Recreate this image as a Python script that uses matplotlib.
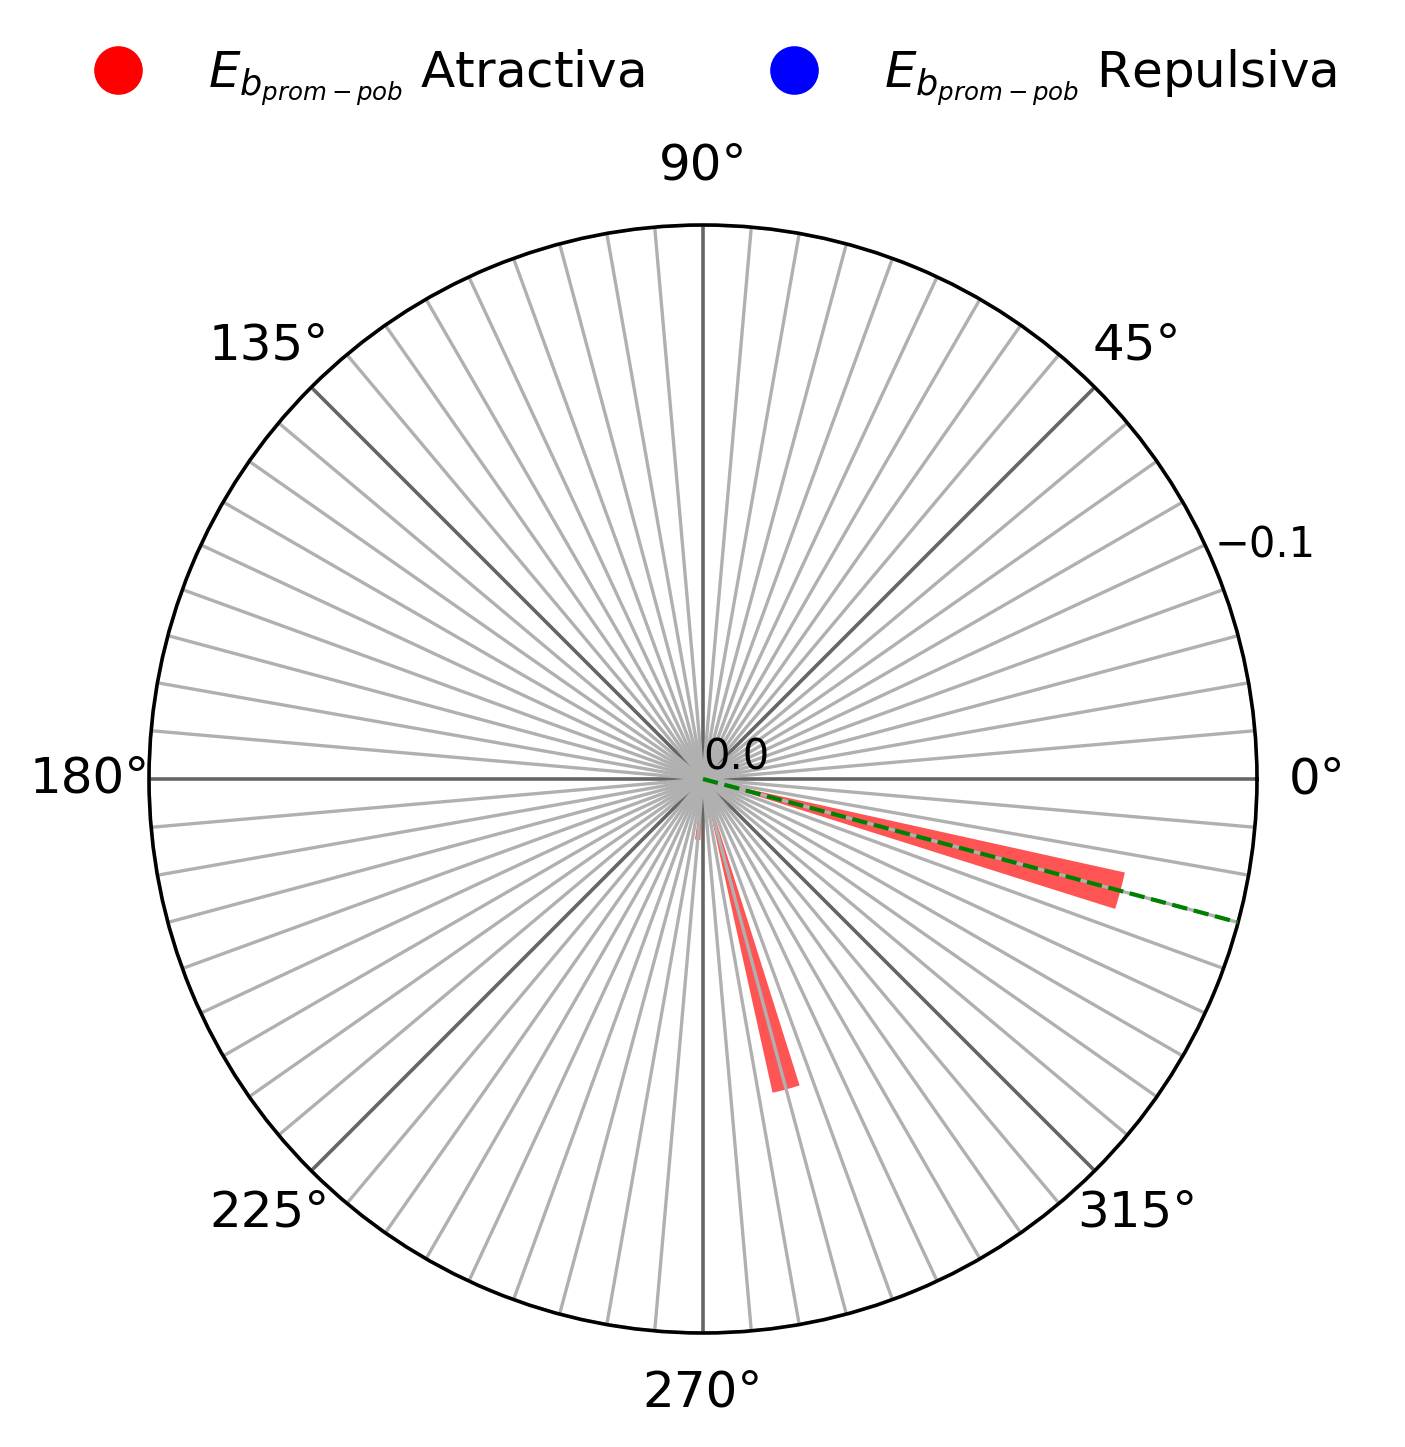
import matplotlib
matplotlib.use("Agg")
import matplotlib.pyplot as plt
import numpy as np

# bar data (angle in degrees, energy value)
angles_deg = [345, 285, 265]
energies = [-0.078, -0.058, -0.011]
bar_width_deg = 5

# reference direction (dashed line)
ref_angle_deg = 345

major_ticks = [0, 45, 90, 135, 180, 225, 270, 315]
minor_ticks = [a for a in range(0, 360, 5) if a % 45 != 0]
r_ticks = [0.0, -0.1]

dpi = 200
fig = plt.figure(figsize=(1405 / dpi, 1447 / dpi), dpi=dpi, facecolor='white')
ax = fig.add_axes([149 / 1405, 1 - 1333 / 1447, 1108 / 1405, 1108 / 1447],
                  projection='polar')

theta = np.deg2rad(angles_deg)
ax.bar(theta, energies, width=np.deg2rad(bar_width_deg), bottom=0.0,
       color='red', alpha=0.67, zorder=1)

ax.plot([np.deg2rad(ref_angle_deg)] * 2, [0, -0.1], color='green', ls='--',
        lw=1.5, zorder=3)

ax.set_ylim(0, -0.1)
ax.set_yticks(r_ticks)
ax.set_yticklabels(['0.0', '\u22120.1'], fontsize=15)
ax.set_rlabel_position(22.5)

ax.set_xticks(np.deg2rad(major_ticks))
ax.set_xticklabels([f"{a}°" for a in major_ticks], fontsize=18)
ax.set_xticks(np.deg2rad(minor_ticks), minor=True)
ax.tick_params(axis='x', which='major', pad=11)

ax.grid(which='major', axis='x', color='#666666', lw=1.3)
ax.grid(which='minor', axis='x', color='#b0b0b0', lw=1.2)
ax.grid(which='major', axis='y', color='#b0b0b0', lw=1.2)
ax.spines['polar'].set_linewidth(1.3)

# legend handles
h1, = ax.plot([], [], 'o', color='red', ms=16.5, ls='none',
              label=r'$E_{b_{prom-pob}}$ Atractiva')
h2, = ax.plot([], [], 'o', color='blue', ms=16.5, ls='none',
              label=r'$E_{b_{prom-pob}}$ Repulsiva')
fig.legend(handles=[h1, h2], loc='center', bbox_to_anchor=(0.5, 1 - 78 / 1447),
           ncol=2, frameon=False, fontsize=18)

plt.savefig('out.png', dpi=dpi, facecolor='white')
